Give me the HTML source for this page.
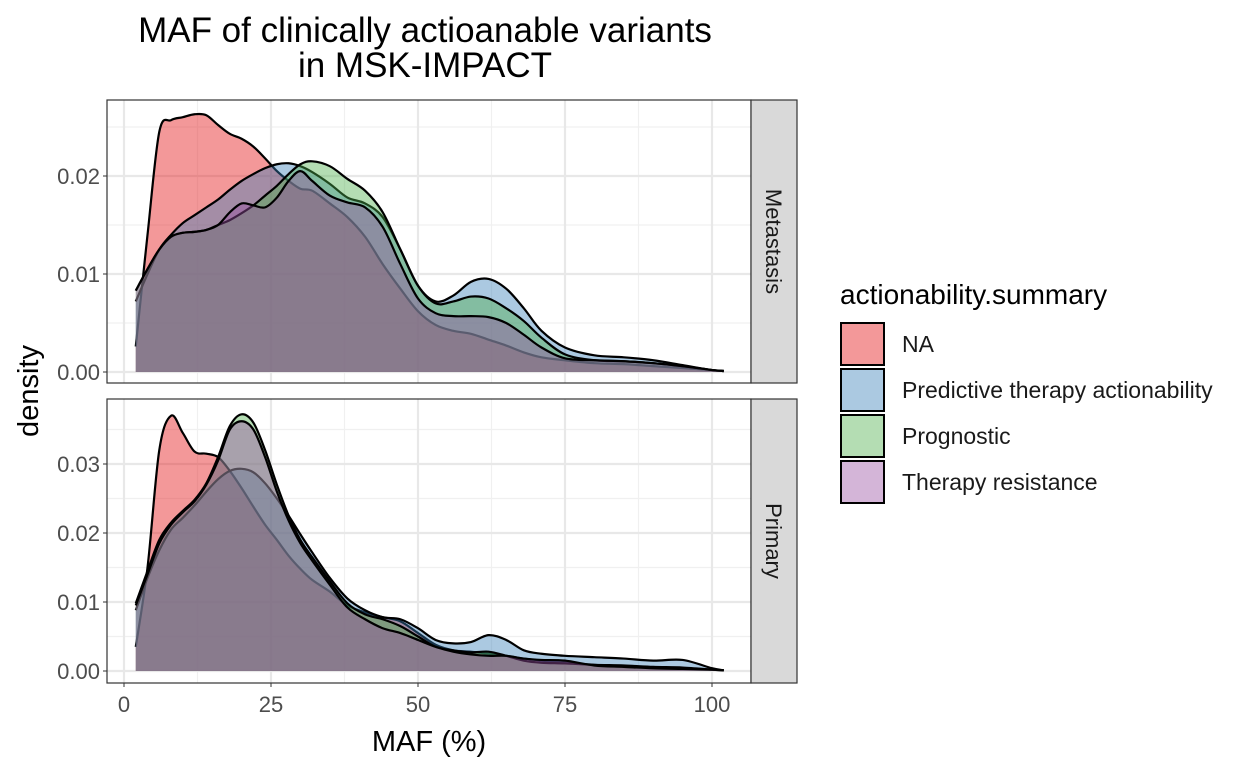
<!DOCTYPE html>
<html><head><meta charset="utf-8"><style>
body{margin:0;background:#fff;font-family:"Liberation Sans",sans-serif;}
</style></head><body>
<svg id="chart" width="1248" height="768" xmlns="http://www.w3.org/2000/svg" font-family="Liberation Sans, sans-serif">
<text x="425" y="42" font-size="35" text-anchor="middle">MAF of clinically actioanable variants</text>
<text x="425" y="77" font-size="35" text-anchor="middle">in MSK-IMPACT</text>
<text transform="translate(38,391) rotate(-90)" font-size="29" text-anchor="middle">density</text>
<text x="429" y="751" font-size="29" text-anchor="middle">MAF (%)</text>
<g id="panels"></g>
<g>
<text x="840" y="304" font-size="28">actionability.summary</text>
<g id="legend"></g>
</g>
</svg>
<script>
const xs=[2,4,6,8,10,12,14,16,18,20,22,24,26,28,30,32,35,38,41,44,47,50,53,56,59,62,65,68,71,75,80,85,90,95,100,102];
const seriesNames=["NA","Predictive therapy actionability","Prognostic","Therapy resistance"];
const colors=["rgba(228,26,28,0.45)","rgba(55,126,184,0.42)","rgba(77,175,74,0.42)","rgba(152,78,163,0.42)"];
const xTicks=[0,25,50,75,100];
const topTicks=[0,0.01,0.02];
const botTicks=[0,0.01,0.02,0.03];
const metNA=[0.0026,0.014,0.0245,0.0257,0.026,0.0263,0.0262,0.0252,0.0243,0.0238,0.023,0.0218,0.0205,0.0195,0.0187,0.0185,0.0172,0.0158,0.0138,0.011,0.0085,0.0062,0.0048,0.0042,0.0039,0.0033,0.0027,0.002,0.0015,0.0012,0.0009,0.0008,0.0006,0.0004,0.0002,0.0001];
const metPred=[0.0072,0.010,0.0125,0.014,0.0152,0.016,0.0168,0.0176,0.0186,0.0195,0.0202,0.0208,0.0212,0.0213,0.021,0.0204,0.0192,0.0178,0.0172,0.0158,0.0125,0.0088,0.0072,0.0078,0.0092,0.0095,0.0085,0.0065,0.0042,0.0025,0.0017,0.0015,0.0012,0.0007,0.0002,0.0001];
const metProg=[0.0083,0.0105,0.0125,0.0138,0.0142,0.0143,0.0145,0.015,0.0155,0.0162,0.017,0.018,0.019,0.0202,0.0212,0.0215,0.021,0.0197,0.0185,0.0163,0.0125,0.0088,0.007,0.0072,0.0077,0.0075,0.0065,0.0052,0.0035,0.0018,0.0012,0.0011,0.0009,0.0006,0.0002,0.0001];
const metRes=[0.0083,0.0105,0.0125,0.0138,0.0142,0.0143,0.0145,0.015,0.0163,0.0172,0.017,0.0168,0.0178,0.0195,0.0205,0.0195,0.018,0.0173,0.0168,0.0148,0.011,0.0075,0.006,0.0057,0.0057,0.0056,0.005,0.0038,0.0025,0.0014,0.0012,0.0011,0.0009,0.0006,0.0002,0.0001];
const priNA=[0.0035,0.015,0.032,0.037,0.0345,0.0318,0.0315,0.031,0.029,0.0265,0.0238,0.0212,0.019,0.0167,0.0148,0.0132,0.0115,0.0095,0.0085,0.0078,0.0072,0.0055,0.0038,0.003,0.0028,0.0025,0.0022,0.0018,0.0015,0.0012,0.0009,0.0007,0.0005,0.0004,0.0002,0.0001];
const priPred=[0.0088,0.0135,0.0175,0.0205,0.0222,0.024,0.026,0.0278,0.029,0.0293,0.0288,0.0272,0.025,0.0225,0.0198,0.0172,0.0135,0.0105,0.0088,0.0078,0.0075,0.0062,0.0045,0.004,0.0042,0.0052,0.0045,0.003,0.0025,0.0022,0.002,0.0018,0.0015,0.0016,0.0004,0.0001];
const priProg=[0.0098,0.0145,0.019,0.0215,0.0232,0.0248,0.0272,0.031,0.0355,0.0372,0.036,0.032,0.027,0.0225,0.019,0.0165,0.013,0.0098,0.0082,0.0075,0.0065,0.005,0.0035,0.003,0.0027,0.0028,0.0022,0.0015,0.0012,0.0011,0.0009,0.0008,0.0006,0.0005,0.0002,0.0001];
const priRes=[0.0095,0.014,0.0185,0.0212,0.023,0.0246,0.027,0.0305,0.035,0.0362,0.035,0.031,0.026,0.0218,0.0185,0.016,0.0125,0.0092,0.0075,0.0062,0.0055,0.0045,0.0035,0.0028,0.0024,0.0022,0.0022,0.0018,0.0016,0.0015,0.0008,0.0006,0.0004,0.0003,0.0002,0.0001];

const NS="http://www.w3.org/2000/svg";
function mk(tag,attrs,parent){const e=document.createElementNS(NS,tag);for(const k in attrs)e.setAttribute(k,attrs[k]);parent.appendChild(e);return e;}
const X0=107,X1=751;
const xScale=v=>124+v*5.88;
const panelsG=document.getElementById('panels');
const panels=[
 {name:"metastasis",label:"Metastasis",top:100,bot:383,y0:372,k:9800,ticks:topTicks,data:[metNA,metPred,metProg,metRes]},
 {name:"primary",label:"Primary",top:399,bot:683,y0:671,k:6900,ticks:botTicks,data:[priNA,priPred,priProg,priRes]}
];
function smoothPath(pts){
 let d=`M${pts[0][0]},${pts[0][1]}`;
 for(let i=0;i<pts.length-1;i++){
  const p0=pts[Math.max(0,i-1)],p1=pts[i],p2=pts[i+1],p3=pts[Math.min(pts.length-1,i+2)];
  const c1=[p1[0]+(p2[0]-p0[0])/6,p1[1]+(p2[1]-p0[1])/6];
  const c2=[p2[0]-(p3[0]-p1[0])/6,p2[1]-(p3[1]-p1[1])/6];
  d+=` C${c1[0]},${c1[1]} ${c2[0]},${c2[1]} ${p2[0]},${p2[1]}`;
 }
 return d;
}
panels.forEach((p,pi)=>{
 const g=mk('g',{},panelsG);
 
 
 const yS=v=>p.y0-v*p.k;
 mk('rect',{x:X0,y:p.top,width:X1-X0,height:p.bot-p.top,fill:'#fff'},g);
 for(let i=0;i<xTicks.length-1;i++){const xv=xScale((xTicks[i]+xTicks[i+1])/2);mk('line',{x1:xv,x2:xv,y1:p.top,y2:p.bot,stroke:'#f0f0f0','stroke-width':1.2},g);}
 for(let i=0;i<p.ticks.length;i++){const yv=yS(p.ticks[i]+0.005);if(yv>p.top)mk('line',{x1:X0,x2:X1,y1:yv,y2:yv,stroke:'#f0f0f0','stroke-width':1.2},g);}
 xTicks.forEach(t=>{const xv=xScale(t);mk('line',{x1:xv,x2:xv,y1:p.top,y2:p.bot,stroke:'#e8e8e8','stroke-width':2.2},g);});
 p.ticks.forEach(t=>{const yv=yS(t);mk('line',{x1:X0,x2:X1,y1:yv,y2:yv,stroke:'#e8e8e8','stroke-width':2.2},g);
  mk('line',{x1:X0-4,x2:X0,y1:yv,y2:yv,stroke:'#333','stroke-width':1},g);
  const tx=mk('text',{x:X0-7,y:yv+8,'font-size':22,'text-anchor':'end',fill:'#4d4d4d'},g);tx.textContent=t.toFixed(2);
  
  
 });
 p.data.forEach((arr,si)=>{
  const pts=xs.map((x,i)=>[xScale(x),yS(arr[i])]);
  const line=smoothPath(pts);
  const area=line+` L${xScale(xs[xs.length-1])},${yS(0)} L${xScale(xs[0])},${yS(0)} Z`;
  const a=mk('path',{d:area,fill:colors[si],stroke:'none'},g);
  
  
  const l=mk('path',{d:line,fill:'none',stroke:'#000','stroke-width':2.2},g);
  
  
 });
 mk('rect',{x:X0,y:p.top,width:X1-X0,height:p.bot-p.top,fill:'none',stroke:'#333','stroke-width':1.2},g);
 const s=mk('rect',{x:X1,y:p.top,width:46,height:p.bot-p.top,fill:'#d9d9d9',stroke:'#333','stroke-width':1.2},g);
 
 
 const cy=(p.top+p.bot)/2;
 const st=mk('text',{transform:`translate(766,${cy}) rotate(90)`,'font-size':22,'text-anchor':'middle',fill:'#1a1a1a'},g);
 st.textContent=p.label;
 
 
 if(pi===1){
  xTicks.forEach(t=>{const xv=xScale(t);mk('line',{x1:xv,x2:xv,y1:p.bot,y2:p.bot+4,stroke:'#333','stroke-width':1},g);
   const tx=mk('text',{x:xv,y:p.bot+29,'font-size':22,'text-anchor':'middle',fill:'#4d4d4d'},g);tx.textContent=t;
   
   
  });
 }
});
const lg=document.getElementById('legend');
seriesNames.forEach((n,i)=>{
 const y=322+i*46;
 const g=mk('g',{},lg);
 
 
 mk('rect',{x:841,y:y+1,width:43,height:42,fill:'#fff'},g);
 mk('rect',{x:841,y:y+1,width:43,height:42,fill:colors[i],stroke:'#000','stroke-width':2},g);
 const t=mk('text',{x:902,y:y+30,'font-size':23,fill:'#1a1a1a'},g);t.textContent=n;
});
</script>
</body></html>
